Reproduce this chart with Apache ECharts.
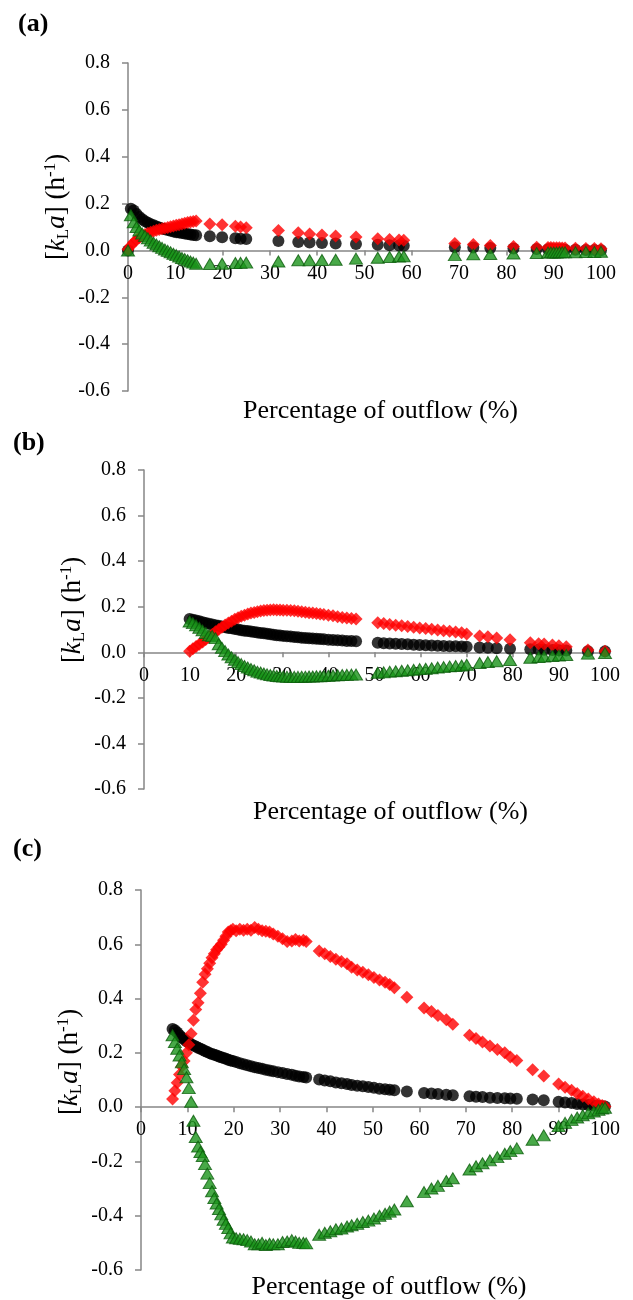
<!DOCTYPE html>
<html><head><meta charset="utf-8">
<script src="https://cdn.jsdelivr.net/npm/echarts@6/dist/echarts.min.js"></script>
<style>html,body{margin:0;padding:0;background:#fff}#c{width:633px;height:1300px}</style>
</head><body><div id="c"></div>
<script>
// ---------- axis ranges ----------
const X_MIN = 0, X_MAX = 100, X_STEP = 10;
const Y_MIN = -0.6, Y_MAX = 0.8, Y_STEP = 0.2;
const panelLabels = ['(a)', '(b)', '(c)'];
const xTitle = 'Percentage of outflow (%)';

// ---------- panel (a) ----------
const xA = [0, 0.6, 1.2, 1.8, 2.4, 3.0, 3.6, 4.2, 4.8, 5.4, 6.0, 6.6, 7.2, 7.8, 8.4, 9.0, 9.6, 10.2, 10.8, 11.4, 12.0, 12.6, 13.2, 13.8, 14.4,
  17.3, 19.9, 22.7, 23.8, 25.0,
  31.8, 36.0, 38.4, 41.0, 43.9, 48.2, 52.8, 55.3, 57.3, 58.3,
  69.1, 73.0, 76.6, 81.5, 86.4,
  88.8, 89.4, 90.0, 90.6, 91.2, 91.8, 92.4,
  94.6, 96.8, 98.6, 100];
const blackA = [0, 0.178, 0.17, 0.155, 0.143, 0.133, 0.125, 0.118, 0.112, 0.107, 0.102, 0.098, 0.094, 0.09, 0.087, 0.084, 0.081, 0.078, 0.076, 0.074, 0.072, 0.07, 0.068, 0.066, 0.065,
  0.06, 0.056, 0.052, 0.05, 0.049,
  0.04, 0.036, 0.034, 0.032, 0.03, 0.027, 0.024, 0.022, 0.021, 0.02,
  0.014, 0.012, 0.01, 0.008, 0.006,
  0.005, 0.005, 0.004, 0.004, 0.004, 0.004, 0.003,
  0.003, 0.002, 0.002, 0.001];
const redA = [0.005, 0.02, 0.035, 0.045, 0.055, 0.062, 0.068, 0.073, 0.078, 0.082, 0.086, 0.089, 0.092, 0.095, 0.098, 0.101, 0.104, 0.107, 0.11, 0.113, 0.116, 0.119, 0.121, 0.124, 0.126,
  0.113, 0.11, 0.103, 0.1, 0.097,
  0.085, 0.075, 0.07, 0.066, 0.062, 0.057, 0.05, 0.047, 0.045, 0.043,
  0.03, 0.025, 0.021, 0.017, 0.014,
  0.012, 0.012, 0.011, 0.011, 0.011, 0.01, 0.01,
  0.009, 0.008, 0.008, 0.007];
const greenA = [0, 0.15, 0.12, 0.1, 0.085, 0.072, 0.062, 0.052, 0.042, 0.033, 0.025, 0.018, 0.011, 0.004, -0.002, -0.008, -0.014, -0.02, -0.026, -0.032, -0.037, -0.042, -0.047, -0.052, -0.057,
  -0.058, -0.057, -0.054, -0.053, -0.052,
  -0.047, -0.042, -0.042, -0.041, -0.04, -0.035, -0.031, -0.028, -0.026, -0.025,
  -0.02, -0.017, -0.015, -0.013, -0.011,
  -0.009, -0.009, -0.009, -0.009, -0.008, -0.008, -0.008,
  -0.008, -0.007, -0.007, -0.006];

// ---------- panel (b) ----------
const xB = [9.9, 10.6, 11.3, 12.0, 12.7, 13.4, 14.1, 14.8, 15.5, 16.2,
  16.9, 17.6, 18.3, 19.0, 19.7, 20.4, 21.1, 21.8, 22.5, 23.2,
  23.9, 24.6, 25.3, 26.0, 26.7, 27.4, 28.1, 28.8, 29.5, 30.2,
  31.0, 31.8, 32.6, 33.4, 34.2, 35.0, 35.8, 36.6, 37.4, 38.2,
  39.0, 40.0, 41.0, 42.0, 43.0, 44.0, 45.0, 46.0,
  50.7, 52.0, 53.3, 54.6, 55.9, 57.2, 58.5, 59.8, 61.1, 62.4,
  63.7, 65.0, 66.3, 67.6, 68.9, 70.0,
  72.8, 74.6, 76.5, 79.4,
  83.8, 85.6, 86.8, 88.6, 90.0, 91.6,
  96.3, 100.0];
const blackB = [0.146, 0.143, 0.14, 0.136, 0.132, 0.128, 0.125, 0.122, 0.119, 0.116,
  0.113, 0.11, 0.107, 0.105, 0.102, 0.1, 0.097, 0.095, 0.093, 0.091,
  0.089, 0.087, 0.085, 0.083, 0.081, 0.079, 0.077, 0.075, 0.074, 0.072,
  0.07, 0.069, 0.067, 0.066, 0.064, 0.063, 0.062, 0.06, 0.059, 0.058,
  0.057, 0.055, 0.054, 0.053, 0.052, 0.05, 0.049, 0.048,
  0.042, 0.04, 0.039, 0.037, 0.036, 0.035, 0.033, 0.032, 0.031, 0.03,
  0.029, 0.028, 0.027, 0.026, 0.025, 0.024,
  0.021, 0.02, 0.018, 0.016,
  0.013, 0.012, 0.011, 0.01, 0.009, 0.008,
  0.005, 0.004];
const redB = [0.005, 0.015, 0.025, 0.035, 0.045, 0.056, 0.067, 0.078, 0.09, 0.1,
  0.11, 0.12, 0.128, 0.136, 0.145, 0.152, 0.158, 0.163, 0.168, 0.172,
  0.175, 0.178, 0.181, 0.183, 0.185, 0.186, 0.187, 0.186, 0.186, 0.185,
  0.184, 0.183, 0.182, 0.18, 0.178, 0.176, 0.174, 0.172, 0.17, 0.168,
  0.166, 0.163, 0.16, 0.156, 0.153, 0.15, 0.148, 0.146,
  0.13, 0.126, 0.122, 0.119, 0.116, 0.113, 0.11, 0.107, 0.104, 0.101,
  0.098, 0.095, 0.092, 0.089, 0.086, 0.08,
  0.072, 0.068, 0.063, 0.055,
  0.042, 0.038, 0.036, 0.032, 0.029, 0.024,
  0.01, 0.004];
const greenB = [0.135, 0.128, 0.118, 0.108, 0.096, 0.085, 0.075, 0.072, 0.062, 0.035,
  0.02, 0.005, -0.01, -0.022, -0.033, -0.043, -0.052, -0.06, -0.067, -0.073,
  -0.079, -0.085, -0.089, -0.093, -0.097, -0.1, -0.102, -0.104, -0.105, -0.106,
  -0.107, -0.107, -0.108, -0.108, -0.107, -0.107, -0.106, -0.106, -0.105, -0.105,
  -0.104, -0.103, -0.102, -0.101, -0.1, -0.099, -0.098, -0.098,
  -0.09, -0.088, -0.085, -0.083, -0.081, -0.079, -0.077, -0.074, -0.072, -0.07,
  -0.067, -0.065, -0.062, -0.06, -0.058, -0.055,
  -0.047, -0.043, -0.039, -0.034,
  -0.024, -0.021, -0.019, -0.016, -0.014, -0.012,
  -0.006, -0.003];

// ---------- panel (c) ----------
const xC = [6.8, 7.3, 7.8, 8.3, 8.8, 9.3, 9.8, 10.3, 10.8, 11.3,
  11.8, 12.3, 12.8, 13.3, 13.8, 14.3, 14.8, 15.3, 15.8, 16.3,
  16.8, 17.3, 17.8, 18.3, 18.8, 19.3, 19.8, 20.5, 21.3, 22.1,
  22.9, 23.7, 24.5, 25.3, 26.1, 26.9, 27.7, 28.5, 29.5, 30.5,
  31.5, 32.5, 33.3, 34.1, 35.0, 35.6,
  38.4, 39.6, 40.8, 42.0, 43.2, 44.4, 45.4, 46.6, 47.8, 49.0,
  50.2, 51.4, 52.6, 53.6, 54.6, 57.3, 61.0, 62.6, 64.0, 65.8,
  67.2, 70.8, 72.2, 73.6, 75.2, 76.8, 78.4, 79.6, 81.0, 84.4,
  86.8, 90.0, 91.4, 92.8, 94.0, 95.2, 96.4, 97.6, 98.6, 99.4,
  100.0];
const blackC = [0.288, 0.283, 0.275, 0.265, 0.257, 0.25, 0.243, 0.237, 0.232, 0.227,
  0.223, 0.219, 0.215, 0.211, 0.207, 0.203, 0.199, 0.196, 0.193, 0.19,
  0.187, 0.184, 0.181, 0.178, 0.175, 0.172, 0.17, 0.166, 0.162, 0.158,
  0.154, 0.151, 0.147, 0.144, 0.141, 0.138, 0.135, 0.132, 0.129, 0.126,
  0.122, 0.119, 0.116, 0.113, 0.111, 0.109,
  0.102, 0.098, 0.095, 0.091, 0.088, 0.085, 0.082, 0.079, 0.077, 0.074,
  0.071, 0.068, 0.066, 0.064, 0.062, 0.058, 0.052, 0.05, 0.048, 0.046,
  0.044, 0.04, 0.038, 0.037, 0.035, 0.034, 0.033, 0.032, 0.031, 0.028,
  0.025, 0.02, 0.017, 0.015, 0.012, 0.01, 0.008, 0.006, 0.004, 0.003,
  0.002];
const redC = [0.03, 0.06, 0.09, 0.12, 0.15, 0.17, 0.2, 0.23, 0.27, 0.32,
  0.36, 0.385, 0.42, 0.46, 0.49, 0.51, 0.53, 0.55, 0.565, 0.58,
  0.59, 0.6, 0.615, 0.63, 0.645, 0.65, 0.655, 0.65, 0.655, 0.652,
  0.655, 0.652, 0.662, 0.655, 0.65, 0.648, 0.645, 0.638, 0.63, 0.62,
  0.61, 0.612, 0.618, 0.612, 0.615, 0.61,
  0.575, 0.565, 0.555, 0.545, 0.537, 0.528, 0.515, 0.505, 0.497, 0.488,
  0.478, 0.468, 0.46, 0.452, 0.44, 0.405, 0.365, 0.352, 0.338, 0.322,
  0.305, 0.265, 0.253, 0.24, 0.225, 0.212, 0.2, 0.185, 0.172, 0.138,
  0.115, 0.085, 0.073, 0.062, 0.05, 0.04, 0.03, 0.02, 0.012, 0.006,
  0.002];
const greenC = [0.265, 0.24, 0.215, 0.19, 0.165, 0.14, 0.11, 0.07, 0.02, -0.05,
  -0.11, -0.145, -0.165, -0.18, -0.21, -0.245, -0.28, -0.31, -0.335, -0.355,
  -0.375, -0.395, -0.415, -0.43, -0.445, -0.465, -0.48, -0.483, -0.485, -0.487,
  -0.49, -0.495, -0.505, -0.505, -0.5, -0.508, -0.503, -0.505, -0.505, -0.497,
  -0.495, -0.49, -0.495, -0.5, -0.5, -0.502,
  -0.47, -0.463, -0.457, -0.45, -0.447, -0.44, -0.435, -0.43, -0.423, -0.418,
  -0.41, -0.4, -0.393, -0.385, -0.377, -0.347, -0.313, -0.3, -0.29, -0.272,
  -0.262, -0.23, -0.218, -0.207, -0.196, -0.184, -0.172, -0.162, -0.152, -0.12,
  -0.104, -0.07, -0.058, -0.047, -0.038, -0.03, -0.023, -0.016, -0.01, -0.005,
  -0.002];

// ---------- layout ----------
const FONT = "'Liberation Serif', 'Times New Roman', serif";
const grids = [
  { left: 128, top: 63, width: 473, height: 328 },
  { left: 144, top: 470, width: 461, height: 319 },
  { left: 141, top: 890, width: 464, height: 380 }
];
const labelPos = [[18, 24], [13, 443], [13, 849]];
const xTitleY = [411, 812, 1287];
const yTitlePos = [[57, 207], [73, 610], [70, 1062]];

const panels = [[xA, blackA, redA, greenA], [xB, blackB, redB, greenB], [xC, blackC, redC, greenC]];

const axisColor = '#868686';
const xAxes = [], yAxes = [], series = [], graphics = [];
grids.forEach((g, i) => {
  // x-axis sits on the y = 0 line of each panel
  const zeroOffset = -g.height * (0 - Y_MIN) / (Y_MAX - Y_MIN);
  xAxes.push({
    type: 'value', gridIndex: i, min: X_MIN, max: X_MAX, interval: X_STEP,
    position: 'bottom', offset: zeroOffset,
    axisLine: { onZero: false, lineStyle: { color: axisColor, width: 1.5 } },
    axisTick: { show: true, length: 5, lineStyle: { color: axisColor, width: 1.5 } },
    axisLabel: { color: '#000', fontFamily: FONT, fontSize: 20, margin: 13 },
    splitLine: { show: false }
  });
  yAxes.push({
    type: 'value', gridIndex: i, min: Y_MIN, max: Y_MAX, interval: Y_STEP,
    axisLine: { show: true, onZero: false, lineStyle: { color: axisColor, width: 1.5 } },
    axisTick: { show: true, length: 6, lineStyle: { color: axisColor, width: 1.5 } },
    axisLabel: { color: '#000', fontFamily: FONT, fontSize: 20, margin: 18,
      formatter: v => (Math.abs(v) < 1e-9 ? 0 : v).toFixed(1) },
    splitLine: { show: false }
  });
  const [xs, b, r, gr] = panels[i];
  series.push({
    type: 'scatter', xAxisIndex: i, yAxisIndex: i, z: 2,
    symbol: 'circle', symbolSize: 12, itemStyle: { color: '#000' },
    data: xs.map((x, k) => [x, b[k]])
  });
  series.push({
    type: 'scatter', xAxisIndex: i, yAxisIndex: i, z: 3,
    symbol: 'diamond', symbolSize: 13, itemStyle: { color: '#ff0000' },
    data: xs.map((x, k) => [x, r[k]])
  });
  series.push({
    type: 'scatter', xAxisIndex: i, yAxisIndex: i, z: 4,
    symbol: 'triangle', symbolSize: [13, 11],
    itemStyle: { color: '#1a931a', borderColor: '#0b5d0b', borderWidth: 1 },
    data: xs.map((x, k) => [x, gr[k]])
  });
  graphics.push({
    type: 'text', x: labelPos[i][0], y: labelPos[i][1],
    style: { text: panelLabels[i], font: "bold 26px 'Liberation Serif'", fill: '#000', align: 'left', verticalAlign: 'middle' }
  });
  graphics.push({
    type: 'text', x: g.left + g.width / 2 + 16, y: xTitleY[i],
    style: { text: xTitle, font: "26px 'Liberation Serif'", fill: '#000', align: 'center', verticalAlign: 'middle' }
  });
  graphics.push({
    type: 'text', x: yTitlePos[i][0], y: yTitlePos[i][1], rotation: Math.PI / 2,
    style: {
      text: '[{i|k}{sub|L}{i|a}] (h{sup|-1})',
      fontFamily: 'Liberation Serif', fontSize: 27, lineHeight: 30, fill: '#000',
      align: 'center', verticalAlign: 'middle',
      rich: {
        i: { fontFamily: 'Liberation Serif', fontSize: 27, fontStyle: 'italic', lineHeight: 30, fill: '#000' },
        sub: { fontFamily: 'Liberation Serif', fontSize: 17, verticalAlign: 'bottom', fill: '#000' },
        sup: { fontFamily: 'Liberation Serif', fontSize: 17, verticalAlign: 'top', fill: '#000' }
      }
    }
  });
});

const chart = echarts.init(document.getElementById('c'), null, { renderer: 'canvas' });
chart.setOption({
  animation: false,
  backgroundColor: '#fff',
  grid: grids.map(g => Object.assign({ containLabel: false }, g)),
  xAxis: xAxes, yAxis: yAxes, series: series, graphic: graphics
});
</script></body></html>
